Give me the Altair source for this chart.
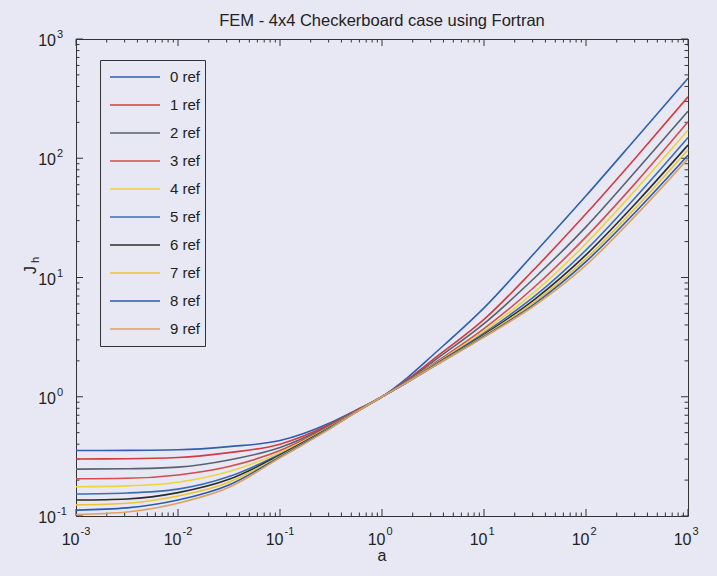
import altair as alt
import pandas as pd

# ---------------- data ----------------
a_vals = [0.001, 0.00316, 0.01, 0.0316, 0.1, 0.316, 0.562, 1.0, 1.78, 3.16, 10, 31.6, 100, 316, 1000]

ref0 = [0.354, 0.355, 0.359, 0.382, 0.429, 0.608, 0.775, 1.0, 1.45, 2.24, 5.56, 16.2, 48.4, 150, 468]
ref1 = [0.301, 0.302, 0.309, 0.340, 0.400, 0.593, 0.770, 1.0, 1.40, 2.05, 4.45, 11.9, 34.2, 104, 327]
ref2 = [0.247, 0.249, 0.257, 0.295, 0.375, 0.582, 0.762, 1.0, 1.37, 1.97, 4.10, 10.0, 26.6, 80, 248]
ref3 = [0.205, 0.207, 0.221, 0.260, 0.354, 0.574, 0.757, 1.0, 1.35, 1.88, 3.72, 8.4, 21.9, 64, 202]
ref4 = [0.176, 0.179, 0.192, 0.236, 0.340, 0.567, 0.753, 1.0, 1.34, 1.84, 3.55, 7.6, 19.3, 56, 172]
ref5 = [0.153, 0.156, 0.168, 0.214, 0.330, 0.562, 0.750, 1.0, 1.335, 1.82, 3.42, 7.0, 17.0, 48.5, 149]
ref6 = [0.136, 0.139, 0.157, 0.203, 0.324, 0.557, 0.748, 1.0, 1.33, 1.80, 3.32, 6.6, 15.5, 43, 129]
ref7 = [0.124, 0.128, 0.147, 0.192, 0.318, 0.553, 0.747, 1.0, 1.33, 1.79, 3.25, 6.3, 14.4, 39.5, 118]
ref8 = [0.112, 0.117, 0.136, 0.182, 0.313, 0.549, 0.746, 1.0, 1.33, 1.78, 3.20, 6.05, 13.6, 36.5, 106]
ref9 = [0.103, 0.108, 0.128, 0.174, 0.307, 0.546, 0.745, 1.0, 1.33, 1.78, 3.16, 5.85, 12.7, 34, 99]

series_names = ["0 ref", "1 ref", "2 ref", "3 ref", "4 ref", "5 ref", "6 ref", "7 ref", "8 ref", "9 ref"]
series_vals = [ref0, ref1, ref2, ref3, ref4, ref5, ref6, ref7, ref8, ref9]
series_colors = ["#2f5fae", "#d43a40", "#56626e", "#d44c4c", "#f0d33a",
                 "#3c6cb2", "#2c2c2c", "#e9c534", "#2b5aae", "#dca262"]

x_exps = [-3, -2, -1, 0, 1, 2, 3]
y_exps = [-1, 0, 1, 2, 3]

# ---------------- build tables ----------------
rows = []
for name, vals in zip(series_names, series_vals):
    for i, (a, j) in enumerate(zip(a_vals, vals)):
        rows.append({"a": a, "J": j, "series": name, "i": i})
lines_df = pd.DataFrame(rows)

x_major = pd.DataFrame({"v": [10.0 ** e for e in x_exps], "e": [str(e) for e in x_exps]})
y_major = pd.DataFrame({"v": [10.0 ** e for e in y_exps], "e": [str(e) for e in y_exps]})
x_minor = pd.DataFrame({"v": [k * 10.0 ** e for e in x_exps[:-1] for k in range(2, 10)]})
y_minor = pd.DataFrame({"v": [k * 10.0 ** e for e in y_exps[:-1] for k in range(2, 10)]})
one_row = pd.DataFrame({"k": [0]})

W, H = 612, 477
BG = "#e7e8f3"
FG = "#333333"
TXT = "#222222"
FONT = "Liberation Sans"

xs = alt.Scale(type="log", domain=[0.001, 1000], nice=False)
ys = alt.Scale(type="log", domain=[0.1, 1000], nice=False)

lines = alt.Chart(lines_df).mark_line(interpolate="monotone", strokeWidth=1.6).encode(
    x=alt.X("a:Q", scale=xs, axis=None),
    y=alt.Y("J:Q", scale=ys, axis=None),
    color=alt.Color(
        "series:N",
        scale=alt.Scale(domain=series_names, range=series_colors),
        sort=series_names,
        legend=alt.Legend(
            orient="none", legendX=24, legendY=21, title=None,
            strokeColor=FG, fillColor=BG, padding=4, cornerRadius=0,
            symbolType="stroke", symbolSize=2500, symbolStrokeWidth=1.6,
            clipHeight=26, rowPadding=2, symbolOffset=5, labelOffset=9,
            labelFontSize=15, labelFont=FONT, labelColor=TXT,
        ),
    ),
    order="i:Q",
)


def xticks(df, length):
    bot = alt.Chart(df).mark_rule(color=FG, strokeWidth=1).encode(
        x=alt.X("v:Q", scale=xs, axis=None), y=alt.value(H), y2=alt.value(H - length))
    top = alt.Chart(df).mark_rule(color=FG, strokeWidth=1).encode(
        x=alt.X("v:Q", scale=xs, axis=None), y=alt.value(0), y2=alt.value(length))
    return [bot, top]


def yticks(df, length):
    left = alt.Chart(df).mark_rule(color=FG, strokeWidth=1).encode(
        y=alt.Y("v:Q", scale=ys, axis=None), x=alt.value(0), x2=alt.value(length))
    right = alt.Chart(df).mark_rule(color=FG, strokeWidth=1).encode(
        y=alt.Y("v:Q", scale=ys, axis=None), x=alt.value(W), x2=alt.value(W - length))
    return [left, right]


x_base = alt.Chart(x_major).transform_calculate(b="'10'").mark_text(
    align="right", baseline="alphabetic", fontSize=16, font=FONT, color=TXT, dx=3.5
).encode(x=alt.X("v:Q", scale=xs, axis=None), y=alt.value(H + 29), text="b:N")
x_exp = alt.Chart(x_major).mark_text(
    align="left", baseline="alphabetic", fontSize=11, font=FONT, color=TXT, dx=4.5
).encode(x=alt.X("v:Q", scale=xs, axis=None), y=alt.value(H + 19), text="e:N")

y_base = alt.Chart(y_major).transform_calculate(b="'10'").mark_text(
    align="right", baseline="alphabetic", fontSize=16, font=FONT, color=TXT, dy=7
).encode(y=alt.Y("v:Q", scale=ys, axis=None), x=alt.value(-20), text="b:N")
y_exp = alt.Chart(y_major).mark_text(
    align="left", baseline="alphabetic", fontSize=11, font=FONT, color=TXT, dy=-1
).encode(y=alt.Y("v:Q", scale=ys, axis=None), x=alt.value(-19), text="e:N")

x_title = alt.Chart(one_row).mark_text(
    align="center", baseline="alphabetic", fontSize=16, font=FONT, color=TXT
).encode(x=alt.value(W / 2), y=alt.value(H + 45), text=alt.value("a"))

y_title_J = alt.Chart(one_row).mark_text(
    align="center", baseline="middle", fontSize=16, font=FONT, color=TXT, angle=270
).encode(x=alt.value(-45), y=alt.value(231), text=alt.value("J"))
y_title_h = alt.Chart(one_row).mark_text(
    align="center", baseline="middle", fontSize=11, font=FONT, color=TXT, angle=270
).encode(x=alt.value(-40), y=alt.value(221), text=alt.value("h"))

layers = (xticks(x_major, 7) + xticks(x_minor, 3.5) + yticks(y_major, 7) + yticks(y_minor, 3.5)
          + [x_base, x_exp, y_base, y_exp, x_title, y_title_J, y_title_h, lines])

chart = alt.layer(*layers).properties(
    width=W, height=H,
    title=alt.TitleParams("FEM - 4x4 Checkerboard case using Fortran", fontSize=16.5, font=FONT,
                          fontWeight="normal", color=TXT, offset=8, dy=8, anchor="middle", frame="group"),
    padding={"left": 76, "top": 39, "right": 29, "bottom": 60},
    autosize=alt.AutoSizeParams(type="none"),
    background=BG,
).configure_view(stroke=FG, strokeWidth=1, fill=BG)

chart.save("out.html", embed_options={"renderer": "svg", "actions": False})
